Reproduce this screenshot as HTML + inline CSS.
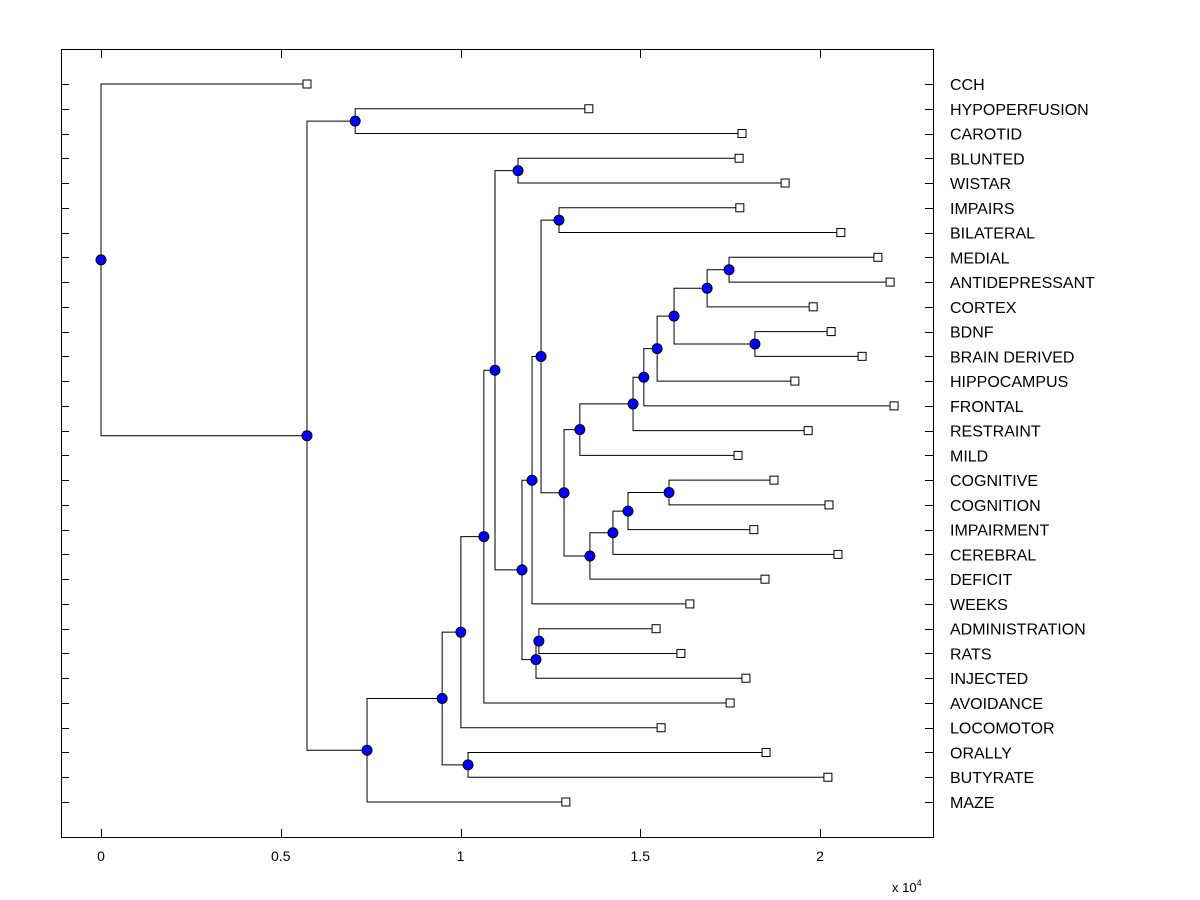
<!DOCTYPE html>
<html><head><meta charset="utf-8"><style>
html,body{margin:0;padding:0;background:#fff;}
svg{display:block;font-family:"Liberation Sans",Arial,sans-serif;}
</style></head><body>
<svg id="chart" width="1200" height="900">
<rect x="0" y="0" width="1200" height="900" fill="#fff"/>
<rect x="61.5" y="49.5" width="872" height="788" fill="#fff" stroke="#000" stroke-width="1"/>
<g id="xticks"></g>
<g id="yticks"></g>
<g id="links"></g>
<g id="marks"></g>
<text x="892" y="892" font-size="13">x 10<tspan dy="-6" font-size="9">4</tspan></text>
</svg>
<script>
const leafLabels = ["CCH","HYPOPERFUSION","CAROTID","BLUNTED","WISTAR","IMPAIRS","BILATERAL","MEDIAL","ANTIDEPRESSANT","CORTEX","BDNF","BRAIN DERIVED","HIPPOCAMPUS","FRONTAL","RESTRAINT","MILD","COGNITIVE","COGNITION","IMPAIRMENT","CEREBRAL","DEFICIT","WEEKS","ADMINISTRATION","RATS","INJECTED","AVOIDANCE","LOCOMOTOR","ORALLY","BUTYRATE","MAZE"];
const leafValues = [0.573,1.357,1.783,1.775,1.903,1.777,2.058,2.161,2.195,1.981,2.031,2.117,1.930,2.206,1.967,1.772,1.872,2.025,1.816,2.050,1.847,1.638,1.544,1.613,1.794,1.750,1.558,1.850,2.022,1.293];
const nodeChildA = ["L7","L10","N0","N2","N3","N4","N5","N6","L16","N8","N9","N10","N7","L5","N13","N14","L22","N16","N15","L3","N19","N20","N21","L27","N22","N24","L1","N26","L0"];
const nodeChildB = ["L8","L11","L9","N1","L12","L13","L14","L15","L17","L18","L19","L20","N11","L6","N12","L21","L23","L24","N17","L4","N18","L25","L26","L28","N23","L29","L2","N25","N27"];
const nodeHeights = [1.747,1.819,1.686,1.594,1.547,1.510,1.480,1.332,1.580,1.466,1.424,1.360,1.288,1.274,1.224,1.199,1.218,1.210,1.171,1.160,1.096,1.065,1.001,1.021,0.949,0.740,0.707,0.573,0];
const xTicks = [0,0.5,1,1.5,2];
const xTickLabels = ["0","0.5","1","1.5","2"];
const NS="http://www.w3.org/2000/svg";
const X = v => 101 + v*359.5;
const Y = i => 84 + i*(802-84)/29;
function mk(tag, attrs, parent){const e=document.createElementNS(NS,tag);for(const k in attrs)e.setAttribute(k,attrs[k]);parent.appendChild(e);return e;}
const gx=document.getElementById('xticks'),gy=document.getElementById('yticks'),gl=document.getElementById('links'),gm=document.getElementById('marks');
xTicks.forEach((t,i)=>{
  const x=Math.round(X(t))+0.5;
  let l=mk('line',{x1:x,y1:837,x2:x,y2:829,stroke:'#000'},gx);
  
  
  let l2=mk('line',{x1:x,y1:50,x2:x,y2:58,stroke:'#000'},gx);
  
  
  const tx=mk('text',{x:X(t),y:861,'font-size':14,'text-anchor':'middle'},gx);
  tx.textContent=xTickLabels[i];
  
  
});
leafLabels.forEach((lab,i)=>{
  const y=Math.round(Y(i))+0.5;
  let l=mk('line',{x1:61,y1:y,x2:69,y2:y,stroke:'#000'},gy);
  
  
  let r=mk('line',{x1:925,y1:y,x2:933,y2:y,stroke:'#000'},gy);
  
  
  const t=mk('text',{x:950,y:Y(i)+6,'font-size':16},gy);
  t.textContent=lab;
  
  
});
const nodeY=[];
function pos(ref){const k=+ref.slice(1);if(ref[0]==='L')return {x:X(leafValues[k]),y:Y(k)};return {x:X(nodeHeights[k]),y:nodeY[k]};}
for(let i=0;i<nodeHeights.length;i++){nodeY[i]=(pos(nodeChildA[i]).y+pos(nodeChildB[i]).y)/2;}
for(let i=0;i<nodeHeights.length;i++){
  const x=X(nodeHeights[i]);
  [nodeChildA[i],nodeChildB[i]].forEach(c=>{
    const p=pos(c);
    const pl=mk('polyline',{points:`${x},${nodeY[i]} ${x},${p.y} ${p.x},${p.y}`,fill:'none',stroke:'#000','stroke-width':1},gl);
    
    
  });
}
for(let i=0;i<nodeHeights.length;i++){
  const c=mk('circle',{cx:X(nodeHeights[i]),cy:nodeY[i],r:5,fill:'#0000ff',stroke:'#000','stroke-width':1},gm);
  
  
}
leafValues.forEach((v,i)=>{
  const s=mk('rect',{x:X(v)-4,y:Y(i)-4,width:8,height:8,fill:'#fff',stroke:'#000','stroke-width':1},gm);
  
  
});
</script>
</body></html>
